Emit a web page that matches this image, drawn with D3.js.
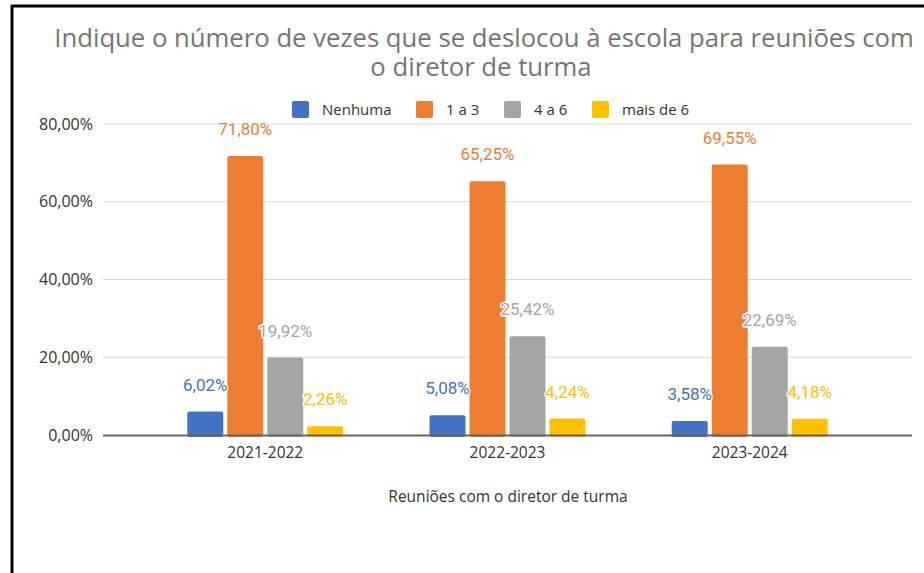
<!DOCTYPE html>
<html>
<head>
<meta charset="utf-8">
<script src="https://cdn.jsdelivr.net/npm/d3@7"></script>
<style>
  body { margin: 0; background: #fff; }
  svg { display: block; }
</style>
</head>
<body>
<svg width="924" height="573"></svg>
<script>
var years = ["2021-2022", "2022-2023", "2023-2024"];
var seriesNames = ["Nenhuma", "1 a 3", "4 a 6", "mais de 6"];
var nenhuma = [6.02, 5.08, 3.58];
var umATres = [71.80, 65.25, 69.55];
var quatroASeis = [19.92, 25.42, 22.69];
var maisDeSeis = [2.26, 4.24, 4.18];
var yTicks = [0, 20, 40, 60, 80];
var colours = ["#4472C4", "#ED7D31", "#A5A5A5", "#FFC000"];

var values = [nenhuma, umATres, quatroASeis, maisDeSeis];

var svg = d3.select("svg");

// frame
svg.append("line").attr("x1", 12).attr("x2", 12).attr("y1", 5).attr("y2", 573)
  .attr("stroke", "#000").attr("stroke-width", 3);
svg.append("line").attr("x1", 11).attr("x2", 924).attr("y1", 6).attr("y2", 6)
  .attr("stroke", "#000").attr("stroke-width", 3);

var margin = { left: 103, right: 12, top: 124, bottom: 138 };
var width = 924 - margin.left - margin.right,
  plotBottom = 435;

var x = d3.scaleBand().domain(years).range([margin.left, margin.left + width])
  .paddingInner(0).paddingOuter(0.17);
var x1 = d3.scaleBand().domain(seriesNames).range([0, 156]).paddingInner(0.1);
var y = d3.scaleLinear().domain([0, 80]).range([plotBottom, margin.top]);

var fmt = function(v) { return v.toFixed(2).replace(".", ",") + "%"; };

// title
var titleLines = ["Indique o número de vezes que se deslocou à escola para reuniões com", "o diretor de turma"];
svg.append("g").selectAll("text").data(titleLines).enter().append("text")
  .attr("x", function(d, i) { return i === 0 ? 484 : 481; })
  .attr("y", function(d, i) { return 47 + i * 29; })
  .attr("text-anchor", "middle")
  .attr("fill", "#757575")
  .style("font-family", "'Open Sans', sans-serif")
  .style("font-size", "25.7px")
  .text(function(d) { return d; });

// gridlines
svg.append("g").selectAll("line")
  .data(yTicks.filter(function(t) { return t > 0; }))
  .enter().append("line")
  .attr("x1", margin.left).attr("x2", margin.left + width)
  .attr("y1", function(d) { return y(d); }).attr("y2", function(d) { return y(d); })
  .attr("stroke", "#d9d9d9").attr("stroke-width", 1);

// y axis labels
var yAxis = d3.axisLeft(y).tickValues(yTicks).tickSize(0).tickPadding(10)
  .tickFormat(function(d) { return fmt(d); });
var yg = svg.append("g").attr("transform", "translate(" + margin.left + ",0)").call(yAxis);
yg.select(".domain").remove();
yg.selectAll("text").attr("fill", "#333").style("font-family", "'Open Sans', sans-serif")
  .style("font-size", "16px");

// bars
var groups = svg.append("g").selectAll("g")
  .data(years).enter().append("g")
  .attr("transform", function(d) { return "translate(" + (x(d) + x.bandwidth() / 2 - 78) + ",0)"; });

var cells = function(d, gi) {
  return seriesNames.map(function(s, si) { return { s: s, si: si, v: values[si][gi] }; });
};

groups.each(function(d, gi) {
  var g = d3.select(this);
  g.selectAll("rect").data(cells(d, gi)).enter().append("rect")
    .attr("x", function(c) { return x1(c.s); })
    .attr("width", x1.bandwidth())
    .attr("y", function(c) { return y(c.v); })
    .attr("height", function(c) { return plotBottom - y(c.v) + 2; })
    .attr("rx", 2)
    .attr("fill", function(c) { return colours[c.si]; });
});

// x axis baseline
svg.append("line").attr("x1", margin.left).attr("x2", margin.left + width)
  .attr("y1", plotBottom + 0.5).attr("y2", plotBottom + 0.5)
  .attr("stroke", "#666").attr("stroke-width", 2);

// value labels
groups.each(function(d, gi) {
  var g = d3.select(this);
  g.selectAll("text.val").data(cells(d, gi)).enter().append("text")
    .attr("class", "val")
    .attr("x", function(c) { return x1(c.s) + x1.bandwidth() / 2; })
    .attr("y", function(c) { return y(c.v) - 21; })
    .attr("text-anchor", "middle")
    .attr("fill", function(c) { return colours[c.si]; })
    .attr("stroke", "#fff").attr("stroke-width", 3).attr("paint-order", "stroke")
    .attr("stroke-linejoin", "round")
    .style("font-family", "Roboto, sans-serif")
    .style("font-size", "17px")
    .text(function(c) { return fmt(c.v); });
});

// x axis labels
var xAxis = d3.axisBottom(x).tickSize(0).tickPadding(12);
var xg = svg.append("g").attr("transform", "translate(0," + plotBottom + ")").call(xAxis);
xg.select(".domain").remove();
xg.selectAll("text").attr("fill", "#333").style("font-family", "'Open Sans', sans-serif")
  .style("font-size", "15.5px");

svg.append("text").attr("x", 508).attr("y", 502).attr("text-anchor", "middle")
  .attr("fill", "#333").style("font-family", "'Open Sans', sans-serif").style("font-size", "15.5px")
  .text("Reuniões com o diretor de turma");

// legend
var legendX = [292, 416, 504, 592];
var legend = svg.append("g").selectAll("g").data(seriesNames).enter().append("g")
  .attr("transform", function(d, i) { return "translate(" + legendX[i] + ",101)"; });
legend.append("rect").attr("width", 17).attr("height", 17).attr("rx", 2)
  .attr("fill", function(d, i) { return colours[i]; });
legend.append("text").attr("x", 30).attr("y", 14).attr("fill", "#333")
  .style("font-family", "'Open Sans', sans-serif").style("font-size", "15px")
  .text(function(d) { return d; });
</script>
</body>
</html>
